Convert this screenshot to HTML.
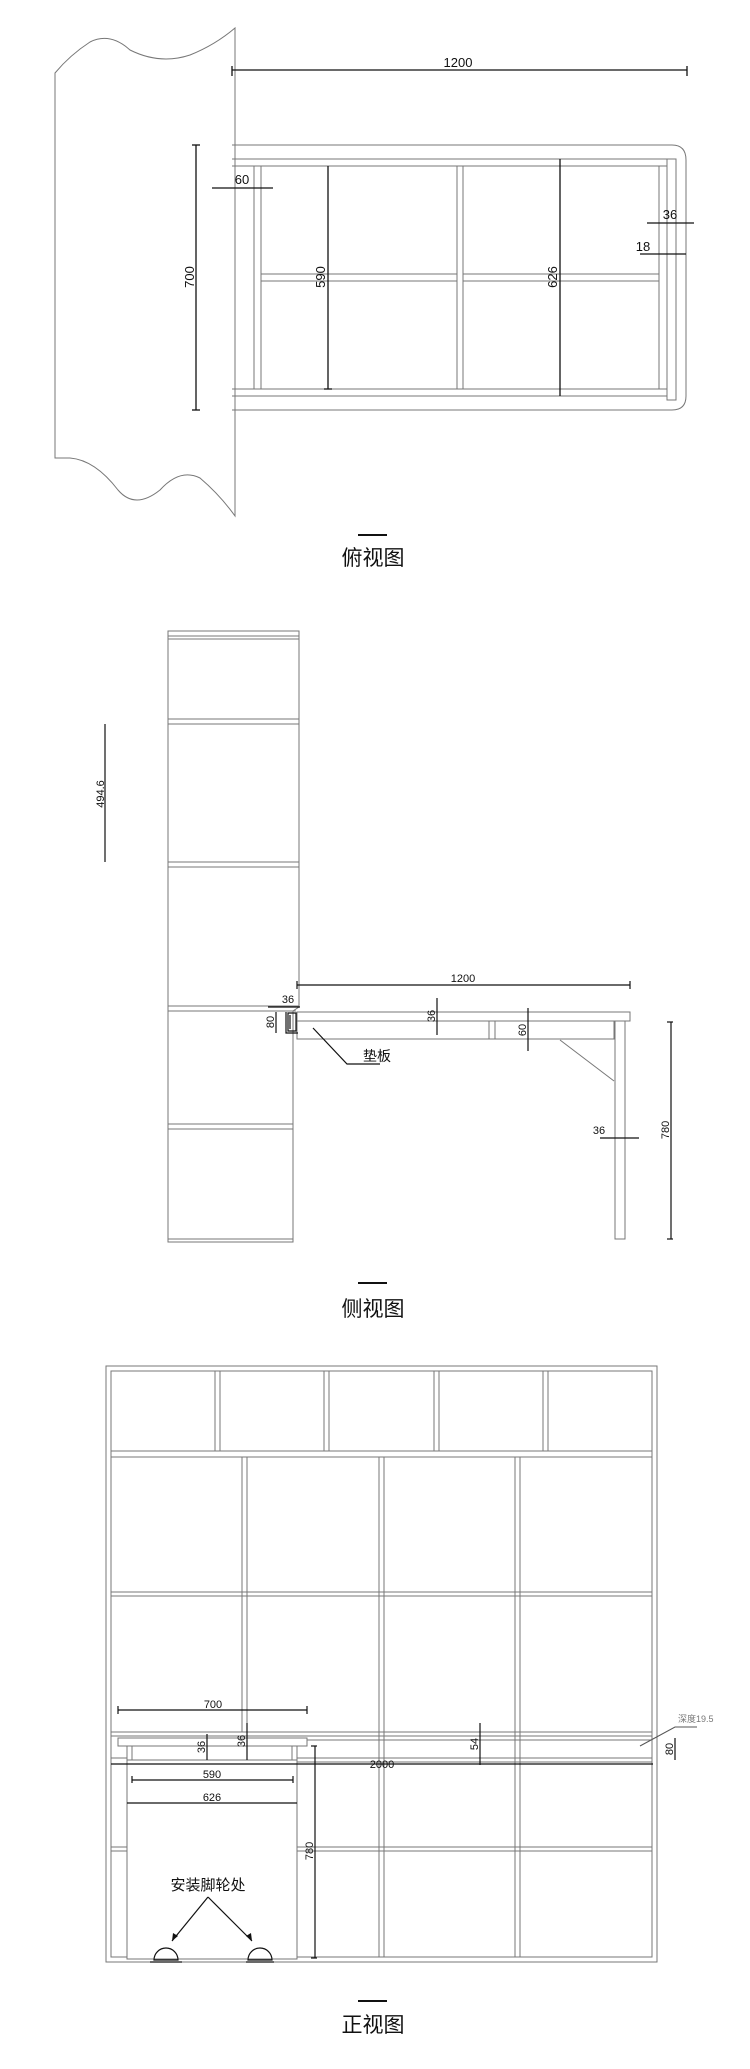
<!DOCTYPE html>
<html><head><meta charset="utf-8"><style>
html,body{margin:0;padding:0;background:#fff;}
svg{display:block;}
.t{font-family:"Liberation Sans",sans-serif;fill:#111;}
.c{font-family:"Liberation Sans","Noto Sans CJK SC",sans-serif;fill:#111;}
</style></head><body>
<svg width="750" height="2069" viewBox="0 0 750 2069" xmlns="http://www.w3.org/2000/svg">
<g fill="none" stroke="#777" stroke-width="1">
<!-- TOP VIEW -->
<path d="M55,73 Q70,55 90,42 Q110,32 130,50 Q160,65 190,55 Q215,45 235,28 L235,516 Q220,495 200,478 Q180,468 160,490 Q135,510 118,490 Q95,460 70,458 Q60,458 55,458 Z"/>
<path d="M232,145 L672,145 Q686,145 686,160 L686,396 Q686,410 672,410 L232,410"/>
<line x1="232" y1="159" x2="667" y2="159"/><line x1="232" y1="166" x2="667" y2="166"/>
<line x1="232" y1="389" x2="667" y2="389"/><line x1="232" y1="396" x2="667" y2="396"/>
<rect x="667" y="159" width="9" height="241"/>
<line x1="254" y1="166" x2="254" y2="389"/><line x1="261" y1="166" x2="261" y2="389"/>
<line x1="457" y1="166" x2="457" y2="389"/><line x1="463" y1="166" x2="463" y2="389"/>
<line x1="659" y1="166" x2="659" y2="389"/>
<line x1="261" y1="274" x2="457" y2="274"/><line x1="261" y1="281" x2="457" y2="281"/>
<line x1="463" y1="274" x2="659" y2="274"/><line x1="463" y1="281" x2="659" y2="281"/>
</g>
<g stroke="#111" stroke-width="1.3" fill="none">
<line x1="232" y1="70" x2="687" y2="70"/><line x1="232" y1="66" x2="232" y2="76"/><line x1="687" y1="66" x2="687" y2="76"/>
<line x1="196" y1="145" x2="196" y2="410"/><line x1="192" y1="145" x2="200" y2="145"/><line x1="192" y1="410" x2="200" y2="410"/>
<line x1="328" y1="166" x2="328" y2="389"/><line x1="324" y1="389" x2="332" y2="389"/>
<line x1="560" y1="159" x2="560" y2="396"/>
<line x1="212" y1="188" x2="273" y2="188"/>
<line x1="647" y1="223" x2="694" y2="223"/>
<line x1="640" y1="254" x2="686" y2="254"/>
</g>
<g class="t" font-size="13" text-anchor="middle">
<text x="458" y="67">1200</text>
<text x="242" y="184">60</text>
<text x="670" y="219">36</text>
<text x="643" y="251">18</text>
<text transform="translate(194,277) rotate(-90)">700</text>
<text transform="translate(325,277) rotate(-90)">590</text>
<text transform="translate(557,277) rotate(-90)">626</text>
</g>
<rect x="358" y="534" width="29" height="2" fill="#111"/>
<text class="c" x="373" y="565" font-size="21" text-anchor="middle">俯视图</text>

<!-- SIDE VIEW -->
<g fill="none" stroke="#777" stroke-width="1">
<path d="M168,631 L299,631 L299,1007 L293,1011 L293,1242 L168,1242 Z"/>
<line x1="168" y1="636" x2="299" y2="636"/><line x1="168" y1="639" x2="299" y2="639"/>
<line x1="168" y1="719" x2="299" y2="719"/><line x1="168" y1="724" x2="299" y2="724"/>
<line x1="168" y1="862" x2="299" y2="862"/><line x1="168" y1="867" x2="299" y2="867"/>
<line x1="168" y1="1006" x2="299" y2="1006"/><line x1="168" y1="1011" x2="296" y2="1011"/>
<line x1="168" y1="1124" x2="293" y2="1124"/><line x1="168" y1="1129" x2="293" y2="1129"/>
<line x1="168" y1="1239" x2="293" y2="1239"/>
<rect x="297" y="1012" width="333" height="9"/>
<rect x="297" y="1021" width="317" height="18"/>
<line x1="489" y1="1021" x2="489" y2="1039"/><line x1="495" y1="1021" x2="495" y2="1039"/>
<rect x="615" y="1021" width="10" height="218"/>
<line x1="560" y1="1040" x2="614" y2="1081"/>
</g>
<g stroke="#111" stroke-width="1.2" fill="none">
<path d="M288,1013 L296,1013 L296,1031 L288,1031 Z M290,1015 L290,1029 M286,1012 L286,1033 L298,1033"/>
<line x1="105" y1="724" x2="105" y2="862"/>
<line x1="297" y1="985" x2="630" y2="985"/><line x1="297" y1="981" x2="297" y2="989"/><line x1="630" y1="981" x2="630" y2="989"/>
<line x1="437" y1="998" x2="437" y2="1035"/>
<line x1="528" y1="1008" x2="528" y2="1051"/>
<line x1="671" y1="1022" x2="671" y2="1239"/><line x1="667" y1="1022" x2="673" y2="1022"/><line x1="667" y1="1239" x2="673" y2="1239"/>
<line x1="600" y1="1138" x2="639" y2="1138"/>
<line x1="276" y1="1012" x2="276" y2="1033"/>
<line x1="268" y1="1007" x2="300" y2="1007"/>
<polyline points="313,1028 347,1064 380,1064"/>
</g>
<g class="t" font-size="11" text-anchor="middle">
<text transform="translate(104,794) rotate(-90)">494.6</text>
<text x="463" y="982">1200</text>
<text transform="translate(435,1016) rotate(-90)">36</text>
<text transform="translate(526,1030) rotate(-90)">60</text>
<text transform="translate(669,1130) rotate(-90)">780</text>
<text x="599" y="1134">36</text>
<text x="288" y="1003">36</text>
<text transform="translate(274,1022) rotate(-90)">80</text>
</g>
<text class="c" x="363" y="1061" font-size="14">垫板</text>
<rect x="358" y="1282" width="29" height="2" fill="#111"/>
<text class="c" x="373" y="1316" font-size="21" text-anchor="middle">侧视图</text>

<!-- FRONT VIEW -->
<g fill="none" stroke="#777" stroke-width="1">
<rect x="106" y="1366" width="551" height="596"/>
<rect x="111" y="1371" width="541" height="586"/>
<line x1="111" y1="1451" x2="652" y2="1451"/><line x1="111" y1="1457" x2="652" y2="1457"/>
<line x1="215" y1="1371" x2="215" y2="1451"/><line x1="220" y1="1371" x2="220" y2="1451"/>
<line x1="324" y1="1371" x2="324" y2="1451"/><line x1="329" y1="1371" x2="329" y2="1451"/>
<line x1="434" y1="1371" x2="434" y2="1451"/><line x1="439" y1="1371" x2="439" y2="1451"/>
<line x1="543" y1="1371" x2="543" y2="1451"/><line x1="548" y1="1371" x2="548" y2="1451"/>
<line x1="111" y1="1592" x2="652" y2="1592"/><line x1="111" y1="1596" x2="652" y2="1596"/>
<line x1="242" y1="1457" x2="242" y2="1732"/><line x1="247" y1="1457" x2="247" y2="1732"/>
<line x1="379" y1="1457" x2="379" y2="1957"/><line x1="384" y1="1457" x2="384" y2="1957"/>
<line x1="515" y1="1457" x2="515" y2="1957"/><line x1="520" y1="1457" x2="520" y2="1957"/>
<line x1="111" y1="1732" x2="652" y2="1732"/><line x1="111" y1="1736" x2="652" y2="1736"/>
<line x1="307" y1="1740" x2="652" y2="1740"/>
<line x1="111" y1="1758" x2="652" y2="1758"/><line x1="297" y1="1762" x2="652" y2="1762"/>
<line x1="111" y1="1847" x2="127" y2="1847"/><line x1="111" y1="1851" x2="127" y2="1851"/>
<line x1="297" y1="1847" x2="652" y2="1847"/><line x1="297" y1="1851" x2="652" y2="1851"/>
<rect x="118" y="1738" width="189" height="8" fill="#fff"/>
<rect x="127" y="1746" width="170" height="213" fill="#fff"/>
<line x1="132" y1="1746" x2="132" y2="1760"/><line x1="292" y1="1746" x2="292" y2="1760"/>
<line x1="127" y1="1760" x2="297" y2="1760"/>
</g>
<g stroke="#111" stroke-width="1.2" fill="none">
<line x1="118" y1="1710" x2="307" y2="1710"/><line x1="118" y1="1706" x2="118" y2="1714"/><line x1="307" y1="1706" x2="307" y2="1714"/>
<line x1="111" y1="1764" x2="653" y2="1764"/>
<line x1="132" y1="1780" x2="293" y2="1780"/><line x1="132" y1="1776" x2="132" y2="1783"/><line x1="293" y1="1776" x2="293" y2="1783"/>
<line x1="127" y1="1803" x2="297" y2="1803"/>
<line x1="315" y1="1746" x2="315" y2="1958"/><line x1="311" y1="1746" x2="317" y2="1746"/><line x1="311" y1="1958" x2="317" y2="1958"/>
<line x1="207" y1="1734" x2="207" y2="1760"/>
<line x1="247" y1="1723" x2="247" y2="1760"/>
<line x1="480" y1="1723" x2="480" y2="1765"/>
<line x1="675" y1="1738" x2="675" y2="1760"/>
<line x1="208" y1="1897" x2="172" y2="1941"/><line x1="208" y1="1897" x2="252" y2="1941"/>
<path d="M154,1960 A12,12 0 0 1 178,1960 Z M248,1960 A12,12 0 0 1 272,1960 Z"/>
<line x1="150" y1="1962" x2="182" y2="1962"/><line x1="246" y1="1962" x2="274" y2="1962"/>
</g>
<polyline points="640,1746 675,1727 697,1727" fill="none" stroke="#555" stroke-width="1"/>
<polygon points="172,1941 173,1933 178,1936" fill="#111"/><polygon points="252,1941 246,1936 251,1933" fill="#111"/>
<g class="t" font-size="11" text-anchor="middle">
<text x="213" y="1708">700</text>
<text x="212" y="1778">590</text>
<text x="212" y="1801">626</text>
<text x="382" y="1768">2000</text>
<text transform="translate(313,1851) rotate(-90)">780</text>
<text transform="translate(205,1747) rotate(-90)">36</text>
<text transform="translate(245,1741) rotate(-90)">36</text>
<text transform="translate(478,1744) rotate(-90)">54</text>
<text transform="translate(673,1749) rotate(-90)">80</text>
</g>
<text class="c" x="678" y="1722" font-size="9" style="fill:#777">深度19.5</text>
<text class="c" x="208" y="1890" font-size="15" text-anchor="middle">安装脚轮处</text>
<rect x="358" y="2000" width="29" height="2" fill="#111"/>
<text class="c" x="373" y="2032" font-size="21" text-anchor="middle">正视图</text>
</svg>
</body></html>
